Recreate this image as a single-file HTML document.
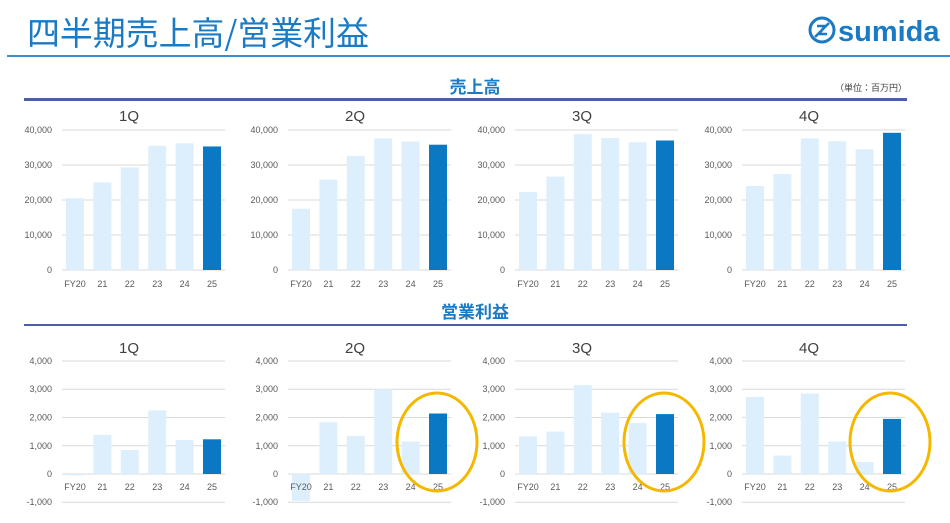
<!DOCTYPE html>
<html><head><meta charset="utf-8"><style>
body{margin:0;background:#fff;width:950px;height:523px;overflow:hidden}
svg{display:block;font-family:"Liberation Sans","Noto Sans CJK JP",sans-serif}
.t{font-size:9px;fill:#595959}
.q{font-size:15px;fill:#404040}
.g{stroke:#d9d9d9;stroke-width:1}
.l{fill:#ddeffc}.d{fill:#0a78c2}
</style></head><body>
<svg width="950" height="523" viewBox="0 0 950 523">
<text x="27" y="45" font-size="33" fill="#1a7ac4" font-family="Noto Sans CJK JP,sans-serif" textLength="342" lengthAdjust="spacingAndGlyphs">四半期売上高/営業利益</text>
<circle cx="822" cy="30" r="12" fill="none" stroke="#1a7ac4" stroke-width="3"/>
<path d="M815 37 L829 23 M817 26 h8 l-6 8 h8" stroke="#1a7ac4" stroke-width="2.5" fill="none"/>
<text x="838" y="41" font-size="29" font-weight="bold" fill="#1a7ac4">sumida</text>
<rect x="7" y="55" width="943" height="2" fill="#3a8fd0"/>
<text x="475" y="93" text-anchor="middle" font-size="17" font-weight="bold" fill="#1a7ac4" font-family="Noto Sans CJK JP,sans-serif">売上高</text>
<text x="907" y="91" text-anchor="end" font-size="9" fill="#404040" font-family="Noto Sans CJK JP,sans-serif">（単位：百万円）</text>
<rect x="24" y="98" width="883" height="3" fill="#4a5fa8"/>
<text x="475" y="318" text-anchor="middle" font-size="17" font-weight="bold" fill="#1a7ac4" font-family="Noto Sans CJK JP,sans-serif">営業利益</text>
<rect x="24" y="324" width="883" height="2" fill="#4a5fa8"/>

<g id="tp">
<line class="g" x1="62" y1="130" x2="225" y2="130"/><line class="g" x1="62" y1="165" x2="225" y2="165"/><line class="g" x1="62" y1="200" x2="225" y2="200"/><line class="g" x1="62" y1="235" x2="225" y2="235"/><line class="g" x1="62" y1="270" x2="225" y2="270"/>
</g>
<use href="#tp" x="226"/><use href="#tp" x="453"/><use href="#tp" x="680"/>

<g>
<text class="q" x="129" y="121" text-anchor="middle">1Q</text>
<g class="t" text-anchor="end"><text x="52" y="133">40,000</text><text x="52" y="168">30,000</text><text x="52" y="203">20,000</text><text x="52" y="238">10,000</text><text x="52" y="273">0</text></g>
<rect class="l" x="66" y="198.25" width="18" height="71.75"/><rect class="l" x="93.4" y="182.5" width="18" height="87.5"/><rect class="l" x="120.8" y="167.45" width="18" height="102.55"/><rect class="l" x="148.2" y="145.75" width="18" height="124.25"/><rect class="l" x="175.6" y="143.3" width="18" height="126.7"/><rect class="d" x="203" y="146.45" width="18" height="123.55"/>
</g>
<g transform="translate(226,0)">
<text class="q" x="129" y="121" text-anchor="middle">2Q</text>
<g class="t" text-anchor="end"><text x="52" y="133">40,000</text><text x="52" y="168">30,000</text><text x="52" y="203">20,000</text><text x="52" y="238">10,000</text><text x="52" y="273">0</text></g>
<rect class="l" x="66" y="208.75" width="18" height="61.25"/><rect class="l" x="93.4" y="179.7" width="18" height="90.3"/><rect class="l" x="120.8" y="155.9" width="18" height="114.1"/><rect class="l" x="148.2" y="138.4" width="18" height="131.6"/><rect class="l" x="175.6" y="141.55" width="18" height="128.45"/><rect class="d" x="203" y="144.7" width="18" height="125.3"/>
</g>
<g transform="translate(453,0)">
<text class="q" x="129" y="121" text-anchor="middle">3Q</text>
<g class="t" text-anchor="end"><text x="52" y="133">40,000</text><text x="52" y="168">30,000</text><text x="52" y="203">20,000</text><text x="52" y="238">10,000</text><text x="52" y="273">0</text></g>
<rect class="l" x="66" y="191.95" width="18" height="78.05"/><rect class="l" x="93.4" y="176.55" width="18" height="93.45"/><rect class="l" x="120.8" y="134.2" width="18" height="135.8"/><rect class="l" x="148.2" y="138.05" width="18" height="131.95"/><rect class="l" x="175.6" y="142.25" width="18" height="127.75"/><rect class="d" x="203" y="140.5" width="18" height="129.5"/>
</g>
<g transform="translate(680,0)">
<text class="q" x="129" y="121" text-anchor="middle">4Q</text>
<g class="t" text-anchor="end"><text x="52" y="133">40,000</text><text x="52" y="168">30,000</text><text x="52" y="203">20,000</text><text x="52" y="238">10,000</text><text x="52" y="273">0</text></g>
<rect class="l" x="66" y="186" width="18" height="84"/><rect class="l" x="93.4" y="174.1" width="18" height="95.9"/><rect class="l" x="120.8" y="138.4" width="18" height="131.6"/><rect class="l" x="148.2" y="141.2" width="18" height="128.8"/><rect class="l" x="175.6" y="149.25" width="18" height="120.75"/><rect class="d" x="203" y="132.8" width="18" height="137.2"/>
</g>
<g id="xl" class="t" text-anchor="middle"><text x="75" y="287">FY20</text><text x="102.4" y="287">21</text><text x="129.8" y="287">22</text><text x="157.2" y="287">23</text><text x="184.6" y="287">24</text><text x="212" y="287">25</text></g>
<use href="#xl" x="226"/><use href="#xl" x="453"/><use href="#xl" x="680"/>

<g id="bp">
<line class="g" x1="62" y1="361" x2="225" y2="361"/><line class="g" x1="62" y1="389.25" x2="225" y2="389.25"/><line class="g" x1="62" y1="417.5" x2="225" y2="417.5"/><line class="g" x1="62" y1="445.75" x2="225" y2="445.75"/><line class="g" x1="62" y1="474" x2="225" y2="474"/><line class="g" x1="62" y1="502.25" x2="225" y2="502.25"/>
<g class="t" text-anchor="end"><text x="52" y="364">4,000</text><text x="52" y="392">3,000</text><text x="52" y="420.5">2,000</text><text x="52" y="449">1,000</text><text x="52" y="477">0</text><text x="52" y="505">-1,000</text></g>
</g>
<use href="#bp" x="226"/><use href="#bp" x="453"/><use href="#bp" x="680"/>

<g>
<text class="q" x="129" y="353" text-anchor="middle">1Q</text>
<rect class="l" x="66" y="474" width="18" height="1.4"/><rect class="l" x="93.4" y="435" width="18" height="39"/><rect class="l" x="120.8" y="450" width="18" height="24"/><rect class="l" x="148.2" y="410.4" width="18" height="63.6"/><rect class="l" x="175.6" y="440.1" width="18" height="33.9"/><rect class="d" x="203" y="439.3" width="18" height="34.7"/>
</g>
<g transform="translate(226,0)">
<text class="q" x="129" y="353" text-anchor="middle">2Q</text>
<rect class="l" x="66" y="474" width="18" height="26.8"/><rect class="l" x="93.4" y="422.3" width="18" height="51.7"/><rect class="l" x="120.8" y="435.9" width="18" height="38.1"/><rect class="l" x="148.2" y="389.25" width="18" height="84.75"/><rect class="l" x="175.6" y="441.5" width="18" height="32.5"/><rect class="d" x="203" y="413.5" width="18" height="60.5"/>
</g>
<g transform="translate(453,0)">
<text class="q" x="129" y="353" text-anchor="middle">3Q</text>
<rect class="l" x="66" y="436.4" width="18" height="37.6"/><rect class="l" x="93.4" y="431.6" width="18" height="42.4"/><rect class="l" x="120.8" y="385" width="18" height="89"/><rect class="l" x="148.2" y="412.7" width="18" height="61.3"/><rect class="l" x="175.6" y="423.1" width="18" height="50.9"/><rect class="d" x="203" y="414.1" width="18" height="59.9"/>
</g>
<g transform="translate(680,0)">
<text class="q" x="129" y="353" text-anchor="middle">4Q</text>
<rect class="l" x="66" y="396.9" width="18" height="77.1"/><rect class="l" x="93.4" y="455.6" width="18" height="18.4"/><rect class="l" x="120.8" y="393.5" width="18" height="80.5"/><rect class="l" x="148.2" y="441.5" width="18" height="32.5"/><rect class="l" x="175.6" y="462.1" width="18" height="11.9"/><rect class="d" x="203" y="418.9" width="18" height="55.1"/>
</g>
<g id="xb" class="t" text-anchor="middle"><text x="75" y="490">FY20</text><text x="102.4" y="490">21</text><text x="129.8" y="490">22</text><text x="157.2" y="490">23</text><text x="184.6" y="490">24</text><text x="212" y="490">25</text></g>
<use href="#xb" x="226"/><use href="#xb" x="453"/><use href="#xb" x="680"/>

<g fill="none" stroke="#f5b800" stroke-width="3">
<ellipse cx="437" cy="442" rx="40" ry="49"/>
<ellipse cx="664" cy="442" rx="40" ry="49"/>
<ellipse cx="890" cy="442" rx="40" ry="49"/>
</g>
</svg>
</body></html>
